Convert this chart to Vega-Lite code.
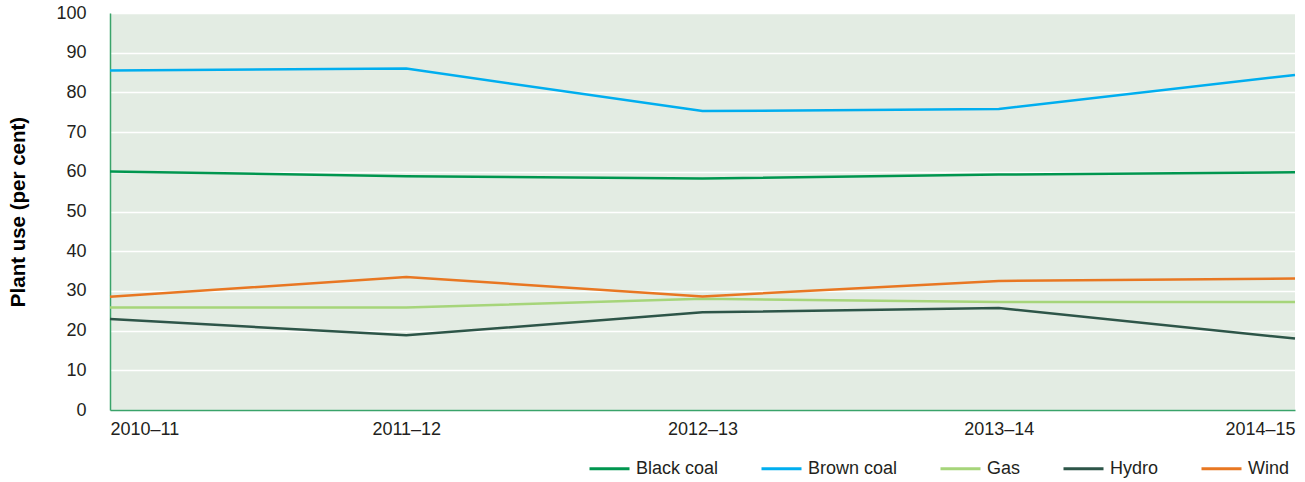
{
  "$schema": "https://vega.github.io/schema/vega-lite/v6.json",
  "width": 1185,
  "height": 397,
  "autosize": {"type": "none"},
  "padding": {"left": 110, "top": 13, "right": 10, "bottom": 72},
  "config": {
    "font": "Liberation Sans",
    "view": {"fill": "#e3ece3", "stroke": null},
    "axis": {
      "labelFont": "Liberation Sans",
      "labelFontSize": 18,
      "labelColor": "#231f20",
      "ticks": false,
      "domainColor": "#3aa36a",
      "domainWidth": 1.5,
      "gridColor": "#ffffff",
      "gridWidth": 1.5,
      "gridOpacity": 1
    },
    "legend": {
      "labelFont": "Liberation Sans",
      "labelFontSize": 18,
      "labelColor": "#231f20"
    }
  },
  "data": {
    "values": [
      {"year": "2010–11", "fuel": "Black coal", "use": 60.1},
      {"year": "2011–12", "fuel": "Black coal", "use": 58.9},
      {"year": "2012–13", "fuel": "Black coal", "use": 58.3},
      {"year": "2013–14", "fuel": "Black coal", "use": 59.3},
      {"year": "2014–15", "fuel": "Black coal", "use": 59.9},
      {"year": "2010–11", "fuel": "Brown coal", "use": 85.5},
      {"year": "2011–12", "fuel": "Brown coal", "use": 86.0},
      {"year": "2012–13", "fuel": "Brown coal", "use": 75.3},
      {"year": "2013–14", "fuel": "Brown coal", "use": 75.8},
      {"year": "2014–15", "fuel": "Brown coal", "use": 84.4},
      {"year": "2010–11", "fuel": "Gas", "use": 25.8},
      {"year": "2011–12", "fuel": "Gas", "use": 25.8},
      {"year": "2012–13", "fuel": "Gas", "use": 28.0},
      {"year": "2013–14", "fuel": "Gas", "use": 27.2},
      {"year": "2014–15", "fuel": "Gas", "use": 27.2},
      {"year": "2010–11", "fuel": "Hydro", "use": 22.9},
      {"year": "2011–12", "fuel": "Hydro", "use": 18.8},
      {"year": "2012–13", "fuel": "Hydro", "use": 24.6},
      {"year": "2013–14", "fuel": "Hydro", "use": 25.7},
      {"year": "2014–15", "fuel": "Hydro", "use": 18.0},
      {"year": "2010–11", "fuel": "Wind", "use": 28.5},
      {"year": "2011–12", "fuel": "Wind", "use": 33.5},
      {"year": "2012–13", "fuel": "Wind", "use": 28.6},
      {"year": "2013–14", "fuel": "Wind", "use": 32.5},
      {"year": "2014–15", "fuel": "Wind", "use": 33.1}
    ]
  },
  "mark": {"type": "line", "strokeWidth": 2.5},
  "encoding": {
    "x": {
      "field": "year",
      "type": "ordinal",
      "scale": {"type": "point", "padding": 0},
      "axis": {
        "title": null,
        "labelAngle": 0,
        "labelFlush": true,
        "labelPadding": 10,
        "grid": false
      }
    },
    "y": {
      "field": "use",
      "type": "quantitative",
      "scale": {"domain": [0, 100], "nice": false},
      "axis": {
        "title": "Plant use (per cent)",
        "titleFont": "Liberation Sans",
        "titleFontSize": 20.5,
        "titleFontWeight": "bold",
        "titleColor": "#000000",
        "titlePadding": 27,
        "labelPadding": 24,
        "labelOverlap": false,
        "values": [0, 10, 20, 30, 40, 50, 60, 70, 80, 90, 100]
      }
    },
    "color": {
      "field": "fuel",
      "type": "nominal",
      "scale": {
        "domain": ["Black coal", "Brown coal", "Gas", "Hydro", "Wind"],
        "range": ["#00964f", "#00aeef", "#a6d57a", "#2d5548", "#e87722"]
      },
      "legend": {
        "title": null,
        "orient": "none",
        "direction": "horizontal",
        "legendX": 478,
        "legendY": 434,
        "symbolType": "stroke",
        "symbolSize": 1600,
        "symbolStrokeWidth": 3,
        "labelOffset": 5,
        "columnPadding": 36,
        "labelLimit": 200
      }
    }
  }
}
